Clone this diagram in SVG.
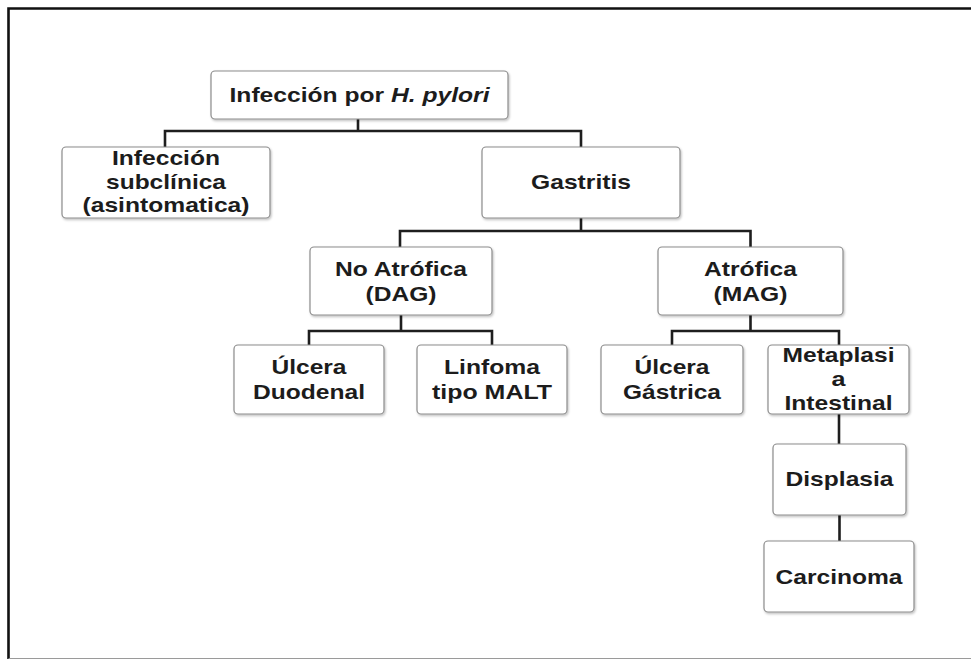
<svg xmlns="http://www.w3.org/2000/svg" width="971" height="660" viewBox="0 0 971 660">
  <style>
    .box { fill: #ffffff; stroke: #8c8c8c; stroke-width: 1.2; }
    .t { font-family: "Liberation Sans", Arial, sans-serif; font-weight: bold; font-size: 21px; fill: #1c1c1c; text-anchor: middle; }
    .c { fill: none; stroke: #1e1e1e; stroke-width: 2.6; stroke-linecap: square; }
  </style>
  <defs>
    <filter id="sh" x="-10%" y="-10%" width="125%" height="130%">
      <feDropShadow dx="1" dy="1.5" stdDeviation="1.2" flood-color="#000" flood-opacity="0.25"/>
    </filter>
  </defs>
  <rect x="0" y="0" width="971" height="660" fill="#ffffff"/>
  <g id="frame">
    <path d="M8.5,659 V8.5 H971" fill="none" stroke="#111" stroke-width="2.6"/>
    <path d="M8.5,658.5 H971" fill="none" stroke="#9a9a9a" stroke-width="1.2"/>
  </g>
  <g id="connectors">
    <path class="c" d="M358,119 V131 M165,147 V131 H581 V147"/>
    <path class="c" d="M581,218 V231 M400,247 V231 H750.5 V247"/>
    <path class="c" d="M401,315 V331 M309,345 V331 H492 V345"/>
    <path class="c" d="M750.5,315 V331 M672,345 V331 H839 V345"/>
    <path class="c" d="M839,414 V444"/>
    <path class="c" d="M839.5,515 V541"/>
  </g>
  <g id="n-infeccion">
    <rect class="box" filter="url(#sh)" x="211" y="71" width="297" height="48" rx="4"/>
    <text class="t" x="359.5" y="102" textLength="260" lengthAdjust="spacingAndGlyphs">Infección por <tspan font-style="italic">H. pylori</tspan></text>
  </g>
  <g id="n-subclinica">
    <rect class="box" filter="url(#sh)" x="62" y="147" width="208" height="71" rx="4"/>
    <text class="t" x="166" y="165" textLength="108" lengthAdjust="spacingAndGlyphs">Infección</text>
    <text class="t" x="166" y="189" textLength="120" lengthAdjust="spacingAndGlyphs">subclínica</text>
    <text class="t" x="166" y="212" textLength="167" lengthAdjust="spacingAndGlyphs">(asintomatica)</text>
  </g>
  <g id="n-gastritis">
    <rect class="box" filter="url(#sh)" x="482" y="147" width="198" height="71" rx="4"/>
    <text class="t" x="581" y="189" textLength="100" lengthAdjust="spacingAndGlyphs">Gastritis</text>
  </g>
  <g id="n-noatrofica">
    <rect class="box" filter="url(#sh)" x="310" y="247" width="182" height="68" rx="4"/>
    <text class="t" x="401" y="276" textLength="132" lengthAdjust="spacingAndGlyphs">No Atrófica</text>
    <text class="t" x="401" y="301" textLength="71" lengthAdjust="spacingAndGlyphs">(DAG)</text>
  </g>
  <g id="n-atrofica">
    <rect class="box" filter="url(#sh)" x="658" y="247" width="185" height="68" rx="4"/>
    <text class="t" x="750.5" y="276" textLength="93" lengthAdjust="spacingAndGlyphs">Atrófica</text>
    <text class="t" x="750.5" y="301" textLength="74" lengthAdjust="spacingAndGlyphs">(MAG)</text>
  </g>
  <g id="n-ulcera-duodenal">
    <rect class="box" filter="url(#sh)" x="234" y="345" width="150" height="69" rx="4"/>
    <text class="t" x="309" y="374" textLength="75" lengthAdjust="spacingAndGlyphs">Úlcera</text>
    <text class="t" x="309" y="399" textLength="112" lengthAdjust="spacingAndGlyphs">Duodenal</text>
  </g>
  <g id="n-linfoma">
    <rect class="box" filter="url(#sh)" x="417" y="345" width="150" height="69" rx="4"/>
    <text class="t" x="492" y="374" textLength="96" lengthAdjust="spacingAndGlyphs">Linfoma</text>
    <text class="t" x="492" y="399" textLength="120" lengthAdjust="spacingAndGlyphs">tipo MALT</text>
  </g>
  <g id="n-ulcera-gastrica">
    <rect class="box" filter="url(#sh)" x="601" y="345" width="142" height="69" rx="4"/>
    <text class="t" x="672" y="374" textLength="75" lengthAdjust="spacingAndGlyphs">Úlcera</text>
    <text class="t" x="672" y="399" textLength="98" lengthAdjust="spacingAndGlyphs">Gástrica</text>
  </g>
  <g id="n-metaplasia">
    <rect class="box" filter="url(#sh)" x="768" y="345" width="141" height="69" rx="4"/>
    <text class="t" x="838.5" y="362" textLength="112" lengthAdjust="spacingAndGlyphs">Metaplasi</text>
    <text class="t" x="838.5" y="386" textLength="14" lengthAdjust="spacingAndGlyphs">a</text>
    <text class="t" x="838.5" y="410" textLength="108" lengthAdjust="spacingAndGlyphs">Intestinal</text>
  </g>
  <g id="n-displasia">
    <rect class="box" filter="url(#sh)" x="773" y="444" width="133" height="71" rx="4"/>
    <text class="t" x="839.5" y="486" textLength="108" lengthAdjust="spacingAndGlyphs">Displasia</text>
  </g>
  <g id="n-carcinoma">
    <rect class="box" filter="url(#sh)" x="764" y="541" width="150" height="71" rx="4"/>
    <text class="t" x="839" y="584" textLength="127" lengthAdjust="spacingAndGlyphs">Carcinoma</text>
  </g>
</svg>
